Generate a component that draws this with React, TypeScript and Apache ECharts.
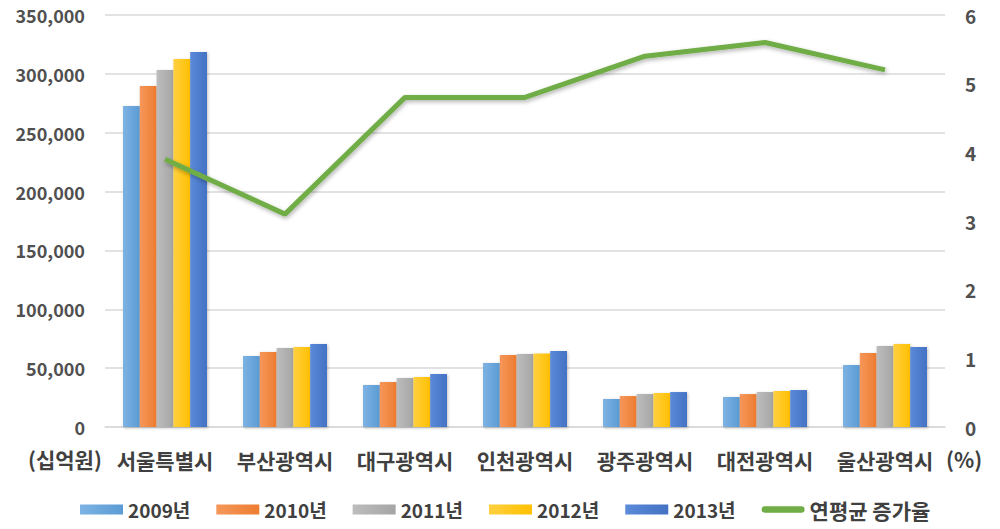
import React, { useEffect, useRef } from "react";
import * as echarts from "echarts";

const categories = ["서울특별시", "부산광역시", "대구광역시", "인천광역시", "광주광역시", "대전광역시", "울산광역시"];
const years = ["2009년", "2010년", "2011년", "2012년", "2013년"];
const v2009 = [272700, 60300, 35700, 54400, 23800, 25500, 52700];
const v2010 = [289700, 63700, 38200, 61200, 26300, 28000, 62900];
const v2011 = [303300, 67100, 41600, 62000, 28000, 29700, 68800];
const v2012 = [312600, 68000, 42500, 62500, 28900, 30600, 70500];
const v2013 = [318600, 70500, 45000, 64600, 29700, 31400, 68000];
const growthRate = [3.9, 3.1, 4.8, 4.8, 5.4, 5.6, 5.2];
const lineName = "연평균 증가율";

const barColors = ["#5B9BD5", "#ED7D31", "#A5A5A5", "#FFC000", "#4472C4"];
const barLight = ["#7DB3E3", "#F5975A", "#BDBDBD", "#FFD040", "#5A8AD8"];

export default function App() {
  const ref = useRef<HTMLDivElement>(null);
  useEffect(() => {
    if (!ref.current) return;
    const chart = echarts.init(ref.current, null, { renderer: "svg" });
    const font = "'Noto Sans CJK KR', 'Noto Sans', sans-serif";
    const barData = [v2009, v2010, v2011, v2012, v2013];
    const barSeries = barData.map((d, i) => ({
      name: years[i],
      type: "bar",
      data: d,
      barGap: "0%",
      barCategoryGap: "30%",
      itemStyle: {
        color: new echarts.graphic.LinearGradient(0, 0, 1, 0, [
          { offset: 0, color: barLight[i] },
          { offset: 1, color: barColors[i] },
        ]),
        shadowColor: "rgba(0,0,0,0.25)",
        shadowBlur: 3,
        shadowOffsetX: 1,
        shadowOffsetY: 1,
      },
    }));
    chart.setOption({
      animation: false,
      backgroundColor: "#ffffff",
      textStyle: { fontFamily: font },
      grid: { left: 105, right: 55, top: 15, bottom: 102 },
      legend: {
        bottom: 4,
        left: 75,
        itemWidth: 43,
        itemHeight: 10,
        itemGap: 26,
        textStyle: { fontSize: 19, fontWeight: "bold", color: "#404040", fontFamily: font },
        data: [
          ...years.map((y) => ({ name: y, icon: "rect" })),
          {
            name: lineName,
            icon: "path://M3,0 L37,0 A3,3 0 0 1 37,6 L3,6 A3,3 0 0 1 3,0 Z",
            textStyle: { fontSize: 21, fontWeight: "bold", color: "#404040", fontFamily: font },
          },
        ],
      },
      xAxis: {
        type: "category",
        data: categories,
        axisTick: { show: false },
        axisLine: { lineStyle: { color: "#D9D9D9", width: 1.5 } },
        axisLabel: { interval: 0, fontSize: 21, fontWeight: "bold", color: "#404040", margin: 22, fontFamily: font },
      },
      yAxis: [
        {
          type: "value",
          min: 0,
          max: 350000,
          interval: 50000,
          axisLabel: {
            fontSize: 18,
            fontWeight: "bold",
            color: "#505050",
            margin: 20,
            fontFamily: font,
            formatter: (v: number) => v.toLocaleString("en-US"),
          },
          splitLine: { lineStyle: { color: "#D9D9D9", width: 1.5 } },
        },
        {
          type: "value",
          min: 0,
          max: 6,
          interval: 1,
          position: "right",
          axisLabel: { fontSize: 19, fontWeight: "bold", color: "#505050", margin: 20, fontFamily: font },
          splitLine: { show: false },
        },
      ],
      graphic: [
        {
          type: "text",
          left: 28,
          top: 448,
          style: { text: "(십억원)", fontSize: 21, fontWeight: "bold", fill: "#404040", fontFamily: font },
        },
        {
          type: "text",
          left: 946,
          top: 448,
          style: { text: "(%)", fontSize: 21, fontWeight: "bold", fill: "#404040", fontFamily: font },
        },
      ],
      series: [
        ...barSeries,
        {
          name: lineName,
          type: "line",
          yAxisIndex: 1,
          data: growthRate,
          symbol: "none",
          itemStyle: { color: "#70AD47" },
          lineStyle: {
            color: "#70AD47",
            width: 5,
            shadowColor: "rgba(0,0,0,0.3)",
            shadowBlur: 4,
            shadowOffsetX: 1,
            shadowOffsetY: 2,
          },
          z: 5,
        },
      ],
    });
    return () => chart.dispose();
  }, []);
  return <div ref={ref} style={{ width: 1000, height: 529, position: "absolute", left: 0, top: 0 }} />;
}
